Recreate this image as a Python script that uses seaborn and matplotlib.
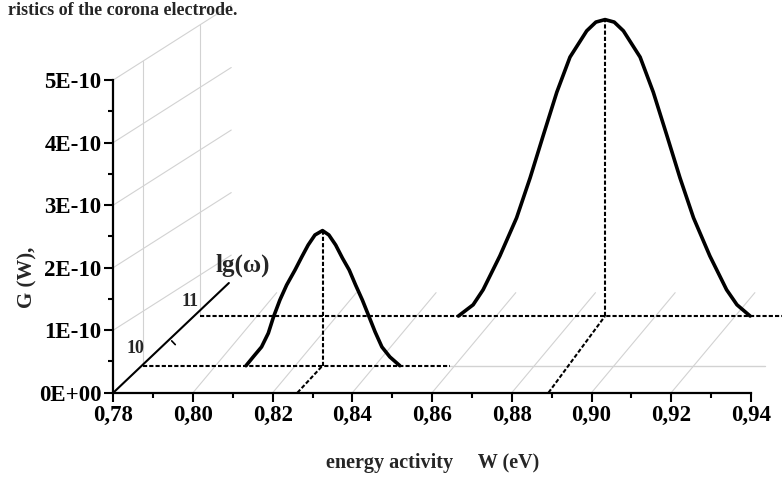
import numpy as np
import pandas as pd
import matplotlib
matplotlib.use("Agg")
import matplotlib.pyplot as plt
import seaborn as sns

# ---------------- data ----------------
w_ticks = [0.78, 0.80, 0.82, 0.84, 0.86, 0.88, 0.90, 0.92, 0.94]
w_tick_labels = ["0,78", "0,80", "0,82", "0,84", "0,86", "0,88", "0,90", "0,92", "0,94"]
w_minor = [0.79, 0.81, 0.83, 0.85, 0.87, 0.89, 0.91, 0.93]
g_ticks = [0, 1, 2, 3, 4, 5]                # units of 1E-10 W
g_tick_labels = ["0E+00", "1E-10", "2E-10", "3E-10", "4E-10", "5E-10"]
g_minor = [0.5, 1.5, 2.5, 3.5, 4.5]

lg_levels = ["10", "11"]
lg_axis_dw = [0.0075, 0.0218]   # depth shift of lg level (W units)
lg_axis_dg = [0.432, 1.226]     # depth shift of lg level (1E-10 units)
peak_dw = [0.0063, 0.0142]      # shift of each peak's drop line
depth_end = (0.0290, 1.754)     # end of the lg axis (shift)

# lg(w)=10 curve
small_w = [0.8070, 0.8088, 0.8109, 0.8126, 0.8139, 0.8155, 0.8172, 0.8193, 0.8210,
           0.8226, 0.8243, 0.8262, 0.8278, 0.8295, 0.8312, 0.8329, 0.8345, 0.8362,
           0.8379, 0.8394, 0.8411, 0.8431, 0.8456]
small_g = [0, 0.14, 0.30, 0.52, 0.78, 1.05, 1.29, 1.53, 1.74, 1.93, 2.09, 2.16,
           2.09, 1.93, 1.72, 1.53, 1.29, 1.05, 0.78, 0.54, 0.30, 0.14, 0]
# lg(w)=11 curve
big_w = [0.8524, 0.8561, 0.8586, 0.8628, 0.8670, 0.8704, 0.8737, 0.8771, 0.8804,
         0.8846, 0.8869, 0.8892, 0.8915, 0.8938, 0.8980, 0.9013, 0.9047, 0.9080,
         0.9114, 0.9155, 0.9197, 0.9223, 0.9256]
big_g = [0, 0.18, 0.42, 0.96, 1.57, 2.21, 2.89, 3.58, 4.14, 4.56, 4.70, 4.74, 4.70,
         4.56, 4.14, 3.58, 2.89, 2.21, 1.57, 0.96, 0.42, 0.18, 0]
peak_w = [0.8262, 0.8892]
peak_g = [2.16, 4.74]

caption = 'ristics of the corona electrode.'

# ---------------- figure ----------------
sns.set_theme(style="white")
plt.rcParams['font.family'] = ['Liberation Serif', 'DejaVu Serif']
plt.rcParams['font.weight'] = 'bold'

W, H = 782, 480
fig = plt.figure(figsize=(W / 100, H / 100), dpi=100)
ax = fig.add_axes([0, 0, 1, 1])
ax.set_facecolor('white')

# pixel mapping of reference
px_per_w = 3985.0
x0_px = 113.3
px_per_g = 62.54
y0_px = 392.7
ax.set_xlim(0.78 - x0_px / px_per_w, 0.78 + (W - x0_px) / px_per_w)
ax.set_ylim((y0_px - H) / px_per_g, y0_px / px_per_g)

grey = '#d2d2d2'
# floor grid
for w0 in w_ticks[1:-1]:
    ax.plot([w0, w0 + 0.021], [0, 1.6], color=grey, lw=0.8, zorder=1)
# back-wall grid
for g0 in g_ticks[1:]:
    ax.plot([0.78, 0.78 + 0.0296], [g0, g0 + 1.2], color=grey, lw=0.8, zorder=1)
for dw, dg in zip(lg_axis_dw, lg_axis_dg):
    top = 5 + 1.2 * dw / 0.0296
    ax.plot([0.78 + dw, 0.78 + dw], [dg, top], color=grey, lw=0.8, zorder=1)
# grey continuation of lg=10 level
ax.plot([0.8645, 0.9435], [lg_axis_dg[0], lg_axis_dg[0]], color=grey, lw=1.0, zorder=1)

dash = (0, (2, 1))
# level dashed lines
ax.plot([0.78 + lg_axis_dw[0], 0.8645], [lg_axis_dg[0]] * 2, color='black', lw=1.5,
        ls=dash, zorder=2)
ax.plot([0.78 + lg_axis_dw[1], 0.95], [lg_axis_dg[1]] * 2, color='black', lw=1.5,
        ls=dash, zorder=2)

# peak drop lines
for pw, pg, dw, dg in zip(peak_w, peak_g, peak_dw, lg_axis_dg):
    ax.plot([pw + dw, pw + dw], [dg, dg + pg], color='black', lw=1.5, ls=dash, zorder=2)
    ax.plot([pw, pw + dw], [0, dg], color='black', lw=1.5, ls=dash, zorder=2)

# curves
for ws, gs, dw, dg in [(small_w, small_g, peak_dw[0], lg_axis_dg[0]),
                       (big_w, big_g, peak_dw[1], lg_axis_dg[1])]:
    df = pd.DataFrame({'W': np.array(ws) + dw, 'G': np.array(gs) + dg})
    sns.lineplot(data=df, x='W', y='G', sort=False, estimator=None, color='black',
                 lw=2.6, ax=ax, zorder=3, solid_joinstyle='round', solid_capstyle='round')

# depth (lg) axis
ax.plot([0.78, 0.78 + depth_end[0]], [0, depth_end[1]], color='black', lw=1.5, zorder=3)
mid_w = 0.78 + (lg_axis_dw[0] + lg_axis_dw[1]) / 2
mid_g = (lg_axis_dg[0] + lg_axis_dg[1]) / 2
ax.plot([mid_w, mid_w + 0.0009], [mid_g, mid_g - 0.06], color='black', lw=1.2, zorder=3)
ax.text(0.78 + 0.00545, 0.699, lg_levels[0], ha='center', va='center', fontsize=13,
        fontweight='bold')
ax.text(0.78 + 0.01925, 1.466, lg_levels[1], ha='center', va='center', fontsize=13,
        fontweight='bold')
ax.text(0.8124, 2.042, 'lg(ω)', ha='center', va='center', fontsize=18, fontweight='bold')

# axes spines / ticks
for s in ['top', 'right']:
    ax.spines[s].set_visible(False)
ax.spines['left'].set_position(('data', 0.78))
ax.spines['bottom'].set_position(('data', 0))
ax.spines['left'].set_bounds(0, 5)
ax.spines['bottom'].set_bounds(0.78, 0.94)
for s in ['left', 'bottom']:
    ax.spines[s].set_linewidth(1.6)
    ax.spines[s].set_color('black')
ax.set_xticks(w_ticks)
ax.set_xticklabels(w_tick_labels)
ax.set_xticks(w_minor, minor=True)
ax.set_yticks(g_ticks)
ax.set_yticklabels(g_tick_labels)
ax.set_yticks(g_minor, minor=True)
ax.tick_params(which='major', direction='out', length=6.5, width=1.5, colors='black',
               labelsize=16.5, pad=2)
ax.tick_params(which='minor', direction='out', length=3.5, width=1.5, colors='black')
ax.tick_params(axis='both', which='both', bottom=True, left=True)
for lab in ax.get_xticklabels() + ax.get_yticklabels():
    lab.set_fontweight('bold')
ax.set_xlabel('')
ax.set_ylabel('')
ax.grid(False)

# axis titles
fig.text(27 / W, 1 - 277 / H, 'G (W),', rotation=90, ha='center', va='center',
         fontsize=15, fontweight='bold')
fig.text(433 / W, 1 - 463 / H, 'energy activity     W (eV)', ha='center', va='center',
         fontsize=14.5, fontweight='bold')

# caption fragment at the top (kept fully inside the picture)
fig.text(8 / W, 1 - 2 / H, caption, ha='left', va='top', fontsize=13, fontweight='bold')

fig.savefig('out.png', dpi=100, facecolor='white')
